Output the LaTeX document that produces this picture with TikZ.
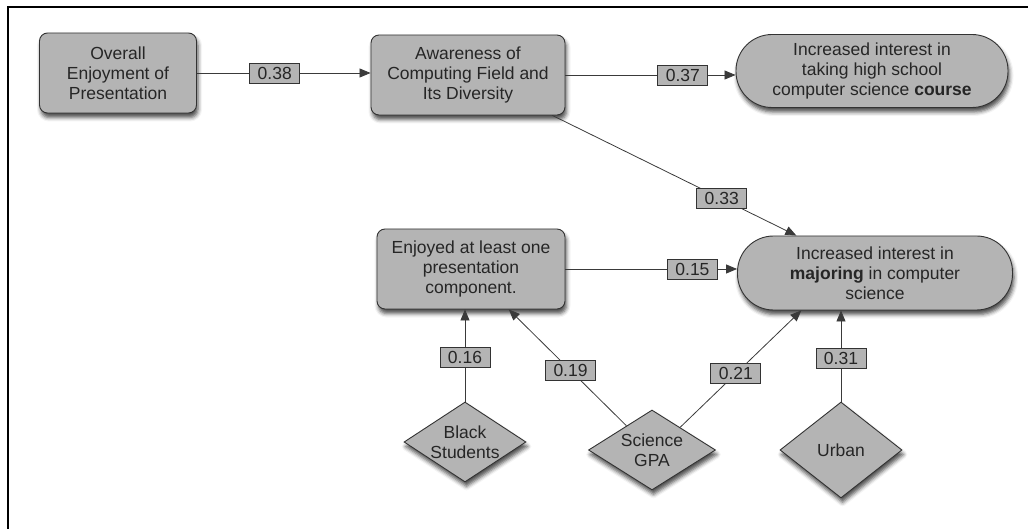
\documentclass[tikz,border=0pt]{standalone}
\usepackage{fontspec}
\setmainfont{Liberation Sans}
\usetikzlibrary{arrows.meta,shapes.geometric,shadows.blur,calc}
\definecolor{boxfill}{HTML}{B4B4B4}
\definecolor{bord}{HTML}{333333}
\definecolor{txt}{HTML}{262626}
\definecolor{edgec}{HTML}{3A3A3A}
\begin{document}
\begin{tikzpicture}[x=1pt,y=-1pt,
 every node/.style={font=\fontsize{17.5}{20}\selectfont, text=txt},
 shad/.style={blur shadow={shadow xshift=1.5pt, shadow yshift=-4.5pt, shadow blur radius=4pt, shadow opacity=70}},
 box/.style={draw=bord, fill=boxfill, rounded corners=8pt, align=center, inner sep=2pt, line width=0.9pt, shad},
 pill/.style={box, rounded corners=36pt},
 dia/.style={diamond, shape aspect=1.5, draw=bord, fill=boxfill, align=center, inner sep=0pt, line width=0.9pt, shad},
 lbl/.style={draw=bord, fill=boxfill, inner sep=0pt, minimum width=50pt, minimum height=20pt, line width=0.9pt},
 conn/.style={draw=edgec, line width=0.8pt, -{Triangle[length=11pt,width=9pt]}}]
\useasboundingbox (0,0) rectangle (1028,529);
\coordinate (fr1) at (1028,7);
\coordinate (fr2) at (8,7);
\coordinate (fr3) at (8,529);
\draw[line width=2.5pt] (fr1) -- (fr2) -- (fr3);

\node[box, minimum width=157pt, minimum height=80pt] (oe) at (118,73) {Overall\\Enjoyment of\\Presentation};
\node[box, minimum width=194pt, minimum height=80pt] (aw) at (468,75) {Awareness of\\Computing Field and\\Its Diversity};
\node[pill, minimum width=272pt, minimum height=73pt] (co) at (872,71) {Increased interest in\\taking high school\\computer science \textbf{course}};
\node[box, minimum width=188pt, minimum height=80pt] (en) at (471,269) {Enjoyed at least one\\presentation\\component.};
\node[pill, minimum width=275pt, minimum height=74pt] (mj) at (875,273) {Increased interest in\\\textbf{majoring} in computer\\science};
\node[dia, minimum width=122pt, minimum height=80pt] (bs) at (465,442) {Black\\Students};
\node[dia, minimum width=127pt, minimum height=80pt] (gp) at (652,450) {Science\\GPA};
\node[dia, minimum width=122pt, minimum height=96pt] (ur) at (841,450) {Urban};

\draw[conn] (oe.east) -- node[lbl,pos=0.448]{0.38} (oe.east -| aw.west);
\draw[conn] (aw.east) -- node[lbl,pos=0.69]{0.37} (aw.east -| co.west);
\draw[conn] ($(aw.south west)!0.933!(aw.south east)$) -- node[lbl,pos=0.694]{0.33} ($(mj.north west)!0.215!(mj.north east)$);
\draw[conn] (en.east) -- node[lbl,pos=0.74]{0.15} (en.east -| mj.west);
\draw[conn] (bs.north) -- node[lbl,pos=0.478]{0.16} (bs.north |- en.south);
\draw[conn] ($(gp.north)!0.4!(gp.west)$) -- node[lbl,pos=0.475]{0.19} ($(en.south west)!0.7!(en.south east)$);
\draw[conn] ($(gp.north)!0.44!(gp.east)$) -- node[lbl,pos=0.46]{0.21} ($(mj.south west)!0.233!(mj.south east)$);
\draw[conn] (ur.north) -- node[lbl,pos=0.47]{0.31} (ur.north |- mj.south);
\end{tikzpicture}
\end{document}
